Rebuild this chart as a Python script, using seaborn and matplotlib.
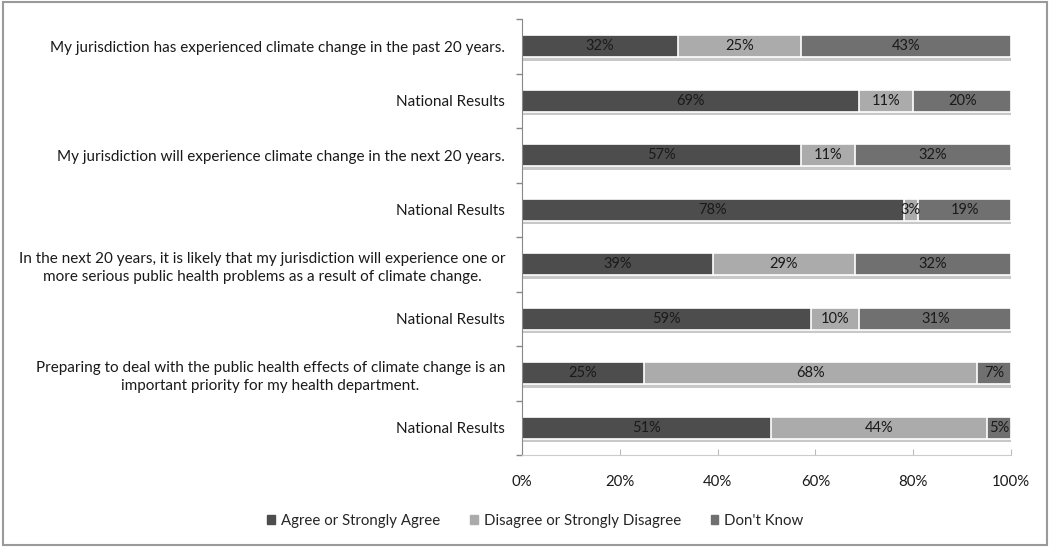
import numpy as np
import pandas as pd
import seaborn as sns
import matplotlib.pyplot as plt
import matplotlib.patheffects as pe
from matplotlib.ticker import PercentFormatter

questions = [
    'My jurisdiction has experienced climate change in the past 20 years.',
    'National Results',
    'My jurisdiction will experience climate change in the next 20 years.',
    'National Results',
    'In the next 20 years, it is likely that my jurisdiction will experience one or\n'
    'more serious public health problems as a result of climate change.',
    'National Results',
    'Preparing to deal with the public health effects of climate change is an\n'
    'important priority for my health department.',
    'National Results',
]
agree = [32, 69, 57, 78, 39, 59, 25, 51]
disagree = [25, 11, 11, 3, 29, 10, 68, 44]
dont_know = [43, 20, 32, 19, 32, 31, 7, 5]
series = ['Agree or Strongly Agree', 'Disagree or Strongly Disagree', "Don't Know"]
colors = ['#4d4d4d', '#ababab', '#707070']

# unique row keys so repeated "National Results" rows stay separate
rows = [f'r{i}' for i in range(len(questions))]
df = pd.DataFrame({'row': rows, 'agree': agree,
                   'disagree': disagree, 'dont_know': dont_know})
df['cum2'] = df.agree + df.disagree
df['cum3'] = df.cum2 + df.dont_know

sns.set_style('white')
plt.rcParams['font.family'] = ['Lato', 'DejaVu Sans']

fig = plt.figure(figsize=(10.5, 5.47), dpi=100)
ax = fig.add_axes([0.497, 0.168, 0.466, 0.797])

shadow = [pe.SimplePatchShadow(offset=(0, -2.5), shadow_rgbFace='#c8c8c8', alpha=1),
          pe.Normal()]
for col, c in zip(['cum3', 'cum2', 'agree'], colors[::-1]):
    sns.barplot(data=df, x=col, y='row', orient='h', color=c, width=0.4,
                edgecolor='white', linewidth=1.2, ax=ax)
for p in ax.patches:
    p.set_path_effects(shadow)

for i in range(len(rows)):
    left = 0
    for v in (agree[i], disagree[i], dont_know[i]):
        ax.text(left + v / 2, i, f'{v}%', ha='center', va='center',
                fontsize=10.5, color='#1a1a1a')
        left += v

ax.set_xlim(0, 100)
ax.set_ylim(len(rows) - 0.5, -0.5)
ax.xaxis.set_major_formatter(PercentFormatter(decimals=0))
ax.set_xticks(np.arange(0, 101, 20))
ax.set_yticks(range(len(rows)))
ax.set_yticklabels(questions, multialignment='center', fontsize=11, color='#1a1a1a',
                   linespacing=1.35)
ax.set_yticks(np.arange(-0.5, len(rows), 1), minor=True)
ax.tick_params(axis='y', which='major', length=0, pad=12)
ax.tick_params(axis='y', which='minor', left=True, length=4, width=1, color='#888888')
ax.tick_params(axis='x', bottom=True, direction='in', length=4, color='#bbbbbb',
               labelsize=10.8, labelcolor='#1a1a1a', pad=14)
ax.set_xlabel('')
ax.set_ylabel('')
for s in ['top', 'right']:
    ax.spines[s].set_visible(False)
ax.spines['left'].set_color('#888888')
ax.spines['bottom'].set_color('#cccccc')

handles = [plt.Rectangle((0, 0), 1, 1, color=c) for c in colors]
fig.legend(handles, series, loc='center', bbox_to_anchor=(0.51, 0.048), ncol=3,
           frameon=False, fontsize=10.8, handlelength=0.5, handleheight=0.5,
           handletextpad=0.4, columnspacing=2.0)

fig.patches.append(plt.Rectangle((0.003, 0.004), 0.994, 0.992, transform=fig.transFigure,
                                 fill=False, edgecolor='#9a9a9a', linewidth=1.5))

fig.savefig('out.png', dpi=100)
